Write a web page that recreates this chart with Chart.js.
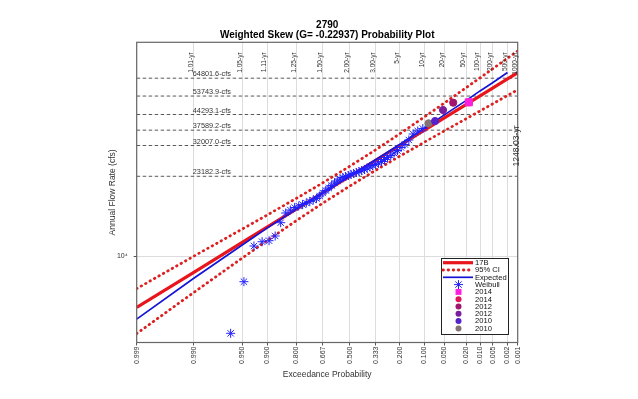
<!DOCTYPE html>
<html>
<head>
<meta charset="utf-8">
<script src="https://cdn.jsdelivr.net/npm/chart.js@4.4.0/dist/chart.umd.min.js"></script>
<style>
  body { margin: 0; background: #fff; }
  canvas { display: block; }
</style>
</head>
<body>
<canvas id="probPlot" width="638" height="399"></canvas>
<script>
const FONT = "'Liberation Sans', Arial, Helvetica, sans-serif";
const SKEW = -0.22937;

// exceedance probability ticks (bottom) and return periods (top)
const probTicks = [0.999, 0.99, 0.95, 0.9, 0.8, 0.6667, 0.5, 0.3333, 0.2, 0.1, 0.05, 0.02, 0.01, 0.005, 0.002, 0.001];
const probLabels = ["0.999", "0.990", "0.950", "0.900", "0.800", "0.667", "0.500", "0.333", "0.200", "0.100", "0.050", "0.020", "0.010", "0.005", "0.002", "0.001"];
const returnLabels = ["1.01-yr", "1.05-yr", "1.11-yr", "1.25-yr", "1.50-yr", "2.00-yr", "3.00-yr", "5-yr", "10-yr", "20-yr", "50-yr", "100-yr", "200-yr", "500-yr", "1000-yr"];

// fitted curves, read at the tick probabilities (cfs)
const flow17B = [5861, 8473, 11584, 13602, 16431, 19489, 23182, 27420, 32007, 37589, 42738, 49143, 53818, 58386, 64271, 68620];
const ciUpper = [7141, 10033, 13338, 15443, 18388, 21641, 25725, 30591, 36150, 43206, 49945, 58627, 65074, 71463, 79900, 86270];
const ciLower = [4462, 6862, 9840, 11806, 14562, 17497, 20899, 24682, 28597, 33169, 37289, 42354, 45993, 49514, 54072, 57424];
const flowExpected = [5189, 7958, 11284, 13460, 16430, 19489, 23182, 27566, 32356, 38388, 44103, 51248, 56714, 61838, 68771];

// observed annual peaks, Weibull plotting positions
const weibullProb = [0.1053, 0.1228, 0.1404, 0.1579, 0.1754, 0.1930, 0.2105, 0.2281, 0.2456, 0.2632,
  0.2807, 0.2982, 0.3158, 0.3333, 0.3509, 0.3684, 0.3860, 0.4035, 0.4211, 0.4386,
  0.4561, 0.4737, 0.4912, 0.5088, 0.5263, 0.5439, 0.5614, 0.5789, 0.5965, 0.6140,
  0.6316, 0.6491, 0.6667, 0.6842, 0.7018, 0.7193, 0.7368, 0.7544, 0.7719, 0.7895,
  0.8070, 0.8246, 0.8421, 0.8596, 0.8772, 0.8947, 0.9123, 0.9298, 0.9474, 0.9649];
const weibullFlow = [38246, 37257, 36105, 33905, 32347, 31344, 30374, 29590, 28825, 28227,
  27642, 27069, 26646, 26230, 25956, 25551, 25285, 24890, 24631, 24374,
  24120, 23869, 23620, 23374, 23130, 22889, 22531, 22064, 21607, 21047,
  20503, 19972, 19455, 18852, 18365, 18080, 17798, 17520, 17246, 16977,
  16712, 16280, 15776, 14252, 12397, 11801, 11678, 11163, 7680, 4471];

// largest peaks, labelled by year
const yearLabels = ["2014", "2014", "2012", "2012", "2010", "2010"];
const yearProb = [0.0175, 0.0175, 0.0351, 0.0526, 0.0702, 0.0877];
const yearFlow = [50335, 50335, 50124, 46435, 41374, 40389];
const yearColors = ["#ff1ee0", "#e0155a", "#a0166e", "#7a1d9e", "#5522cc", "#857272"];
const yearShapes = ["rect", "circle", "circle", "circle", "circle", "circle"];

// reference flow lines
const refFlows = [64801.6, 53743.9, 44293.1, 37589.2, 32007.0, 23182.3];
const highestReturn = "1248.03-yr";

// standard normal quantile (Acklam)
function normInv(p) {
  const a = [-39.69683028665376, 220.9460984245205, -275.9285104469687, 138.3577518672690, -30.66479806614716, 2.506628277459239];
  const b = [-54.47609879822406, 161.5858368580409, -155.6989798598866, 66.80131188771972, -13.28068155288572];
  const c = [-0.007784894002430293, -0.3223964580411365, -2.400758277161838, -2.549732539343734, 4.374664141464968, 2.938163982698783];
  const d = [0.007784695709041462, 0.3224671290700398, 2.445134137142996, 3.754408661907416];
  const lo = 0.02425;
  if (p < lo) {
    const q = Math.sqrt(-2 * Math.log(p));
    return (((((c[0] * q + c[1]) * q + c[2]) * q + c[3]) * q + c[4]) * q + c[5]) / ((((d[0] * q + d[1]) * q + d[2]) * q + d[3]) * q + 1);
  }
  if (p > 1 - lo) {
    const q = Math.sqrt(-2 * Math.log(1 - p));
    return -(((((c[0] * q + c[1]) * q + c[2]) * q + c[3]) * q + c[4]) * q + c[5]) / ((((d[0] * q + d[1]) * q + d[2]) * q + d[3]) * q + 1);
  }
  const q = p - 0.5, r = q * q;
  return (((((a[0] * r + a[1]) * r + a[2]) * r + a[3]) * r + a[4]) * r + a[5]) * q / (((((b[0] * r + b[1]) * r + b[2]) * r + b[3]) * r + b[4]) * r + 1);
}

// Pearson III frequency factor (Wilson-Hilferty) -> x axis position
function freqFactor(pExceed) {
  const z = normInv(1 - pExceed);
  const k = SKEW / 6;
  return (2 / SKEW) * (Math.pow(1 + k * z - k * k, 3) - 1);
}

const pts = (probs, flows) => probs.map((p, i) => ({ x: freqFactor(p), y: flows[i] }));

const datasets = [
  { label: "17B", data: pts(probTicks, flow17B), borderColor: "#e8161c", borderWidth: 3.2, pointRadius: 0, order: 3, inKey: true },
  { label: "95% CI", data: pts(probTicks, ciUpper), borderColor: "#dd1f1f", borderWidth: 2.8, borderDash: [0.5, 4.6], borderCapStyle: "round", pointRadius: 0, order: 4, inKey: true },
  { label: "95% CI lower", data: pts(probTicks, ciLower), borderColor: "#dd1f1f", borderWidth: 2.8, borderDash: [0.5, 4.6], borderCapStyle: "round", pointRadius: 0, order: 4 },
  { label: "Expected", data: pts(probTicks.slice(0, flowExpected.length), flowExpected), borderColor: "#1414d8", borderWidth: 1.7, pointRadius: 0, order: 2, inKey: true },
  { label: "Weibull", data: pts(weibullProb, weibullFlow), showLine: false, pointStyle: "star", pointRadius: 4.5, borderColor: "#2222ff", backgroundColor: "#2222ff", borderWidth: 1, order: 1, inKey: true }
];

yearLabels.forEach((yr, i) => {
  datasets.push({
    label: yr,
    data: pts([yearProb[i]], [yearFlow[i]]),
    showLine: false,
    pointStyle: yearShapes[i],
    pointRadius: yearShapes[i] === "rect" ? 5 : 3.6,
    keyRadius: yearShapes[i] === "rect" ? 4.2 : 3,
    backgroundColor: yearColors[i],
    borderColor: yearColors[i],
    borderWidth: 1,
    order: yearShapes[i] === "rect" ? -1 : 0,
    inKey: true
  });
});

refFlows.forEach(v => {
  datasets.push({
    label: v.toFixed(1) + "-cfs",
    data: pts([probTicks[0], probTicks[probTicks.length - 1]], [v, v]),
    borderColor: "#5a5a5a", borderWidth: 1, borderDash: [3.5, 2.5], pointRadius: 0, order: 6, refLine: true
  });
});

function drawKeyMarker(ctx, style, r, x, y) {
  ctx.beginPath();
  if (style === "rect") {
    const s = r * Math.SQRT1_2;
    ctx.rect(x - s, y - s, 2 * s, 2 * s);
    ctx.fill();
  } else if (style === "star") {
    const s = r * Math.SQRT1_2;
    ctx.moveTo(x - r, y); ctx.lineTo(x + r, y);
    ctx.moveTo(x, y - r); ctx.lineTo(x, y + r);
    ctx.moveTo(x - s, y - s); ctx.lineTo(x + s, y + s);
    ctx.moveTo(x - s, y + s); ctx.lineTo(x + s, y - s);
    ctx.stroke();
  } else {
    ctx.arc(x, y, r, 0, Math.PI * 2);
    ctx.fill();
  }
}

const overlay = {
  id: "overlay",
  afterDatasetsDraw(chart) {
    const { ctx, chartArea: a, scales: { x, y } } = chart;
    ctx.save();

    // plot frame
    ctx.strokeStyle = "#666";
    ctx.lineWidth = 1.2;
    ctx.strokeRect(a.left, a.top, a.right - a.left, a.bottom - a.top);

    // return period labels along the top
    ctx.fillStyle = "#333";
    ctx.font = "6.6px " + FONT;
    returnLabels.forEach((t, i) => {
      const px = x.getPixelForValue(freqFactor(probTicks[i + 1])) - 2.5;
      ctx.save();
      ctx.translate(px, a.top + 10);
      ctx.rotate(-Math.PI / 2);
      ctx.textAlign = "right";
      ctx.textBaseline = "middle";
      ctx.fillText(t, 0, 0);
      ctx.restore();
    });

    // reference flow labels
    ctx.font = "7.3px " + FONT;
    ctx.textAlign = "left";
    ctx.textBaseline = "alphabetic";
    const lx = x.getPixelForValue(freqFactor(probTicks[1])) - 1;
    chart.data.datasets.filter(d => d.refLine).forEach(d => {
      ctx.fillText(d.label, lx, y.getPixelForValue(d.data[0].y) - 1.8);
    });

    // return period of the largest peak
    ctx.save();
    ctx.font = "8.6px " + FONT;
    ctx.translate(a.right - 1.5, 146);
    ctx.rotate(-Math.PI / 2);
    ctx.textAlign = "center";
    ctx.textBaseline = "middle";
    ctx.fillText(highestReturn, 0, 0);
    ctx.restore();

    // legend box
    const bx = 441, by = 258, bw = 67, bh = 76;
    ctx.fillStyle = "#fff";
    ctx.fillRect(bx, by, bw, bh);
    ctx.strokeStyle = "#222";
    ctx.lineWidth = 1;
    ctx.strokeRect(bx + 0.5, by + 0.5, bw, bh);
    ctx.font = "7.6px " + FONT;
    ctx.textBaseline = "middle";
    chart.data.datasets.filter(d => d.inKey).forEach((d, i) => {
      const ly = by + 4.7 + i * 7.3;
      ctx.save();
      if (d.showLine !== false) {
        ctx.strokeStyle = d.borderColor;
        ctx.lineWidth = d.borderWidth;
        ctx.setLineDash(d.borderDash || []);
        ctx.lineCap = d.borderCapStyle || "butt";
        ctx.beginPath();
        ctx.moveTo(443, ly);
        ctx.lineTo(473, ly);
        ctx.stroke();
      } else {
        ctx.fillStyle = d.backgroundColor;
        ctx.strokeStyle = d.borderColor;
        ctx.lineWidth = d.borderWidth;
        drawKeyMarker(ctx, d.pointStyle, d.keyRadius || d.pointRadius, 458.5, ly);
      }
      ctx.restore();
      ctx.fillStyle = "#111";
      ctx.textAlign = "left";
      ctx.fillText(d.label, 475, ly + 0.3);
    });

    // titles
    const cx = (a.left + a.right) / 2;
    ctx.fillStyle = "#000";
    ctx.textAlign = "center";
    ctx.textBaseline = "alphabetic";
    ctx.font = "bold 10px " + FONT;
    ctx.fillText("2790", cx, 27.5);
    ctx.fillText("Weighted Skew (G= -0.22937) Probability Plot", cx, 38);

    ctx.fillStyle = "#333";
    ctx.font = "8.5px " + FONT;
    ctx.textBaseline = "middle";
    ctx.fillText("Exceedance Probability", cx, 374.5);
    ctx.save();
    ctx.translate(113, (a.top + a.bottom) / 2);
    ctx.rotate(-Math.PI / 2);
    ctx.fillText("Annual Flow Rate (cfs)", 0, 0);
    ctx.restore();

    ctx.restore();
  }
};

Chart.defaults.font.family = FONT;

new Chart(document.getElementById("probPlot").getContext("2d"), {
  type: "line",
  data: { datasets: datasets },
  options: {
    responsive: false,
    animation: false,
    devicePixelRatio: 1,
    layout: { padding: { left: 0, top: 42.3, right: 120.3, bottom: 0 } },
    plugins: { legend: { display: false }, title: { display: false }, tooltip: { enabled: false } },
    scales: {
      x: {
        type: "linear",
        min: freqFactor(probTicks[0]),
        max: freqFactor(probTicks[probTicks.length - 1]),
        afterBuildTicks: s => { s.ticks = probTicks.map(p => ({ value: freqFactor(p) })); },
        afterFit: s => { s.height = 56.5; },
        ticks: {
          autoSkip: false, minRotation: 90, maxRotation: 90, padding: 1,
          color: "#333", font: { size: 7 },
          callback: (v, i) => probLabels[i]
        },
        grid: { color: "#dcdcdc", lineWidth: 1, tickLength: 3, tickColor: "#555" },
        border: { display: false }
      },
      y: {
        type: "logarithmic",
        min: 4061,
        max: 94400,
        afterBuildTicks: s => { s.ticks = [{ value: 10000 }]; },
        afterFit: s => { s.width = 136.7; },
        ticks: { color: "#333", font: { size: 7 }, padding: 6, callback: () => "10\u2074" },
        grid: { color: "#dcdcdc", lineWidth: 1, tickLength: 3, tickColor: "#555" },
        border: { display: false }
      }
    }
  },
  plugins: [overlay]
});
</script>
</body>
</html>
